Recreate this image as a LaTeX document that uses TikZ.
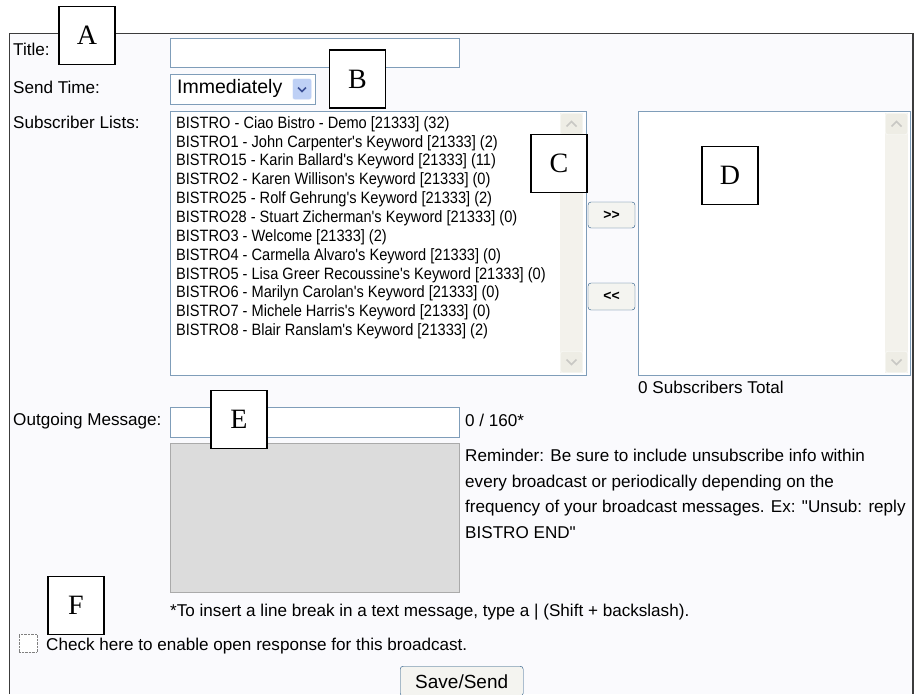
\documentclass[tikz,border=0pt]{standalone}
\usepackage{fontspec}
\setmainfont{Liberation Sans}[Ligatures=TeXOff]
\newfontfamily\listfont{Liberation Sans}[Ligatures=TeXOff, FakeStretch=0.89]
\newfontfamily\tagfont{Liberation Serif}
\usetikzlibrary{positioning,shapes}
\definecolor{panelbg}{RGB}{250,250,253}
\definecolor{fieldline}{RGB}{127,157,185}
\definecolor{scrollbg}{RGB}{243,242,236}
\definecolor{scrollbtn}{RGB}{238,237,229}
\definecolor{chevgray}{RGB}{200,200,196}
\definecolor{dropbtn}{RGB}{190,208,245}
\definecolor{dropchev}{RGB}{60,80,150}
\definecolor{btnline}{RGB}{28,81,128}
\definecolor{btnfill}{RGB}{244,244,240}
\definecolor{msgfill}{RGB}{220,220,220}
\definecolor{msgline}{RGB}{170,170,170}
\definecolor{frameline}{RGB}{60,60,60}

\begin{document}
\begin{tikzpicture}[x=1pt,y=-1pt]
	\tikzstyle{tag}
	  =[draw, line width=1.4pt, fill=white, rectangle, minimum width=56pt,
	  minimum height=58pt, inner sep=0pt, font=\tagfont\fontsize{28}{28}\selectfont]
	\tikzstyle{ui}
	  =[anchor=west, inner sep=0pt, text height=12.5pt, text depth=3.5pt,
	  font=\fontsize{17.1}{17.1}\selectfont]
	\tikzstyle{entry}
	  =[anchor=west, inner sep=0pt, text height=12pt, text depth=3.5pt,
	  font=\listfont\fontsize{16.4}{16.4}\selectfont]
	\tikzstyle{field}
	  =[draw=fieldline, fill=white, rectangle, anchor=north west, inner sep=0pt]
	\tikzstyle{scroll}
	  =[fill=scrollbg, rectangle, anchor=north west, inner sep=0pt]
	\tikzstyle{scrollkey}
	  =[draw=white, fill=scrollbtn, rounded corners=2pt, rectangle,
	  minimum width=22pt, minimum height=21pt, inner sep=0pt]
	\tikzstyle{pushbtn}
	  =[draw=btnline, fill=btnfill, rounded corners=3pt, rectangle,
	  inner sep=0pt, font=\fontsize{19}{19}\selectfont]

	\useasboundingbox (0,0) rectangle (918,694);

	% panel
	\fill[panelbg] (9,33) rectangle (913,694);
	\draw[frameline, line width=0.8pt] (9,694) -- (9,33) -- (913,33);
	\draw[frameline, line width=2pt] (913,33) -- (913,694);

	% labels on the left
	\node[ui] (ltitle) at (13,51) {Title:};
	\node[ui] (lsend) at (13,89) {Send Time:};
	\node[ui] (llists) at (13,124) {Subscriber Lists:};
	\node[ui] (lmsg) at (13,421) {Outgoing Message:};

	% title and send time
	\node[field, minimum width=289pt, minimum height=29pt] (title) at (170,38) {};
	\node[field, minimum width=145pt, minimum height=30pt] (send) at (170,74) {};
	\node[ui, font=\fontsize{19.5}{19.5}\selectfont] (sendval) at (177,89) {Immediately};
	\node[draw=white, fill=dropbtn, rounded corners=2pt, minimum width=19pt,
	  minimum height=21pt, inner sep=0pt] (drop) at (302,89) {};
	\draw[dropchev, line width=1.6pt] ([shift={(-4,-1.5)}]drop.center)
	  -- ([shift={(0,2.5)}]drop.center) -- ([shift={(4,-1.5)}]drop.center);

	% subscriber lists
	\node[field, minimum width=416pt, minimum height=264pt] (avail) at (170,111) {};
	\node[scroll, minimum width=23pt, minimum height=260pt] (availbar) at (560,113) {};
	\node[scrollkey] (availup) at (571.5,124) {};
	\node[scrollkey] (availdown) at (571.5,362) {};
	\node[field, minimum width=272pt, minimum height=264pt] (chosen) at (638,111) {};
	\node[scroll, minimum width=23pt, minimum height=260pt] (chosenbar) at (885,113) {};
	\node[scrollkey] (chosenup) at (896.5,124) {};
	\node[scrollkey] (chosendown) at (896.5,362) {};
	\foreach \k in {availup,chosenup}
	  \draw[chevgray, line width=1.6pt] ([shift={(-5,2.5)}]\k.center)
	    -- ([shift={(0,-2.5)}]\k.center) -- ([shift={(5,2.5)}]\k.center);
	\foreach \k in {availdown,chosendown}
	  \draw[chevgray, line width=1.6pt] ([shift={(-5,-2.5)}]\k.center)
	    -- ([shift={(0,2.5)}]\k.center) -- ([shift={(5,-2.5)}]\k.center);

	\node[entry] (L0) at (176,124) {BISTRO - Ciao Bistro - Demo [21333] (32)};
	\node[entry] (L1)
	  [below=2.95pt of L0.south west, anchor=north west] {BISTRO1 - John Carpenter's Keyword [21333] (2)};
	\node[entry] (L2)
	  [below=2.95pt of L1.south west, anchor=north west] {BISTRO15 - Karin Ballard's Keyword [21333] (11)};
	\node[entry] (L3)
	  [below=2.95pt of L2.south west, anchor=north west] {BISTRO2 - Karen Willison's Keyword [21333] (0)};
	\node[entry] (L4)
	  [below=2.95pt of L3.south west, anchor=north west] {BISTRO25 - Rolf Gehrung's Keyword [21333] (2)};
	\node[entry] (L5)
	  [below=2.95pt of L4.south west, anchor=north west] {BISTRO28 - Stuart Zicherman's Keyword [21333] (0)};
	\node[entry] (L6)
	  [below=2.95pt of L5.south west, anchor=north west] {BISTRO3 - Welcome [21333] (2)};
	\node[entry] (L7)
	  [below=2.95pt of L6.south west, anchor=north west] {BISTRO4 - Carmella Alvaro's Keyword [21333] (0)};
	\node[entry] (L8)
	  [below=2.95pt of L7.south west, anchor=north west] {BISTRO5 - Lisa Greer Recoussine's Keyword [21333] (0)};
	\node[entry] (L9)
	  [below=2.95pt of L8.south west, anchor=north west] {BISTRO6 - Marilyn Carolan's Keyword [21333] (0)};
	\node[entry] (L10)
	  [below=2.95pt of L9.south west, anchor=north west] {BISTRO7 - Michele Harris's Keyword [21333] (0)};
	\node[entry] (L11)
	  [below=2.95pt of L10.south west, anchor=north west] {BISTRO8 - Blair Ranslam's Keyword [21333] (2)};

	\node[pushbtn, minimum width=47pt, minimum height=26pt, font=\bfseries\fontsize{14}{14}\selectfont]
	  (add) at (611.5,215) {>{}>};
	\node[pushbtn, minimum width=47pt, minimum height=27pt, font=\bfseries\fontsize{14}{14}\selectfont]
	  (remove) at (611.5,296.5) {<{}<};
	\node[ui] (total) at (638,389) {0 Subscribers Total};

	% outgoing message
	\node[field, minimum width=289pt, minimum height=30pt] (msg) at (170,407) {};
	\node[ui] (count) at (465,422) {0 / 160*};
	\node[draw=msgline, line width=1pt, fill=msgfill, rectangle, anchor=north west,
	  minimum width=289pt, minimum height=149pt, inner sep=0pt] (preview) at (170,443) {};
	\node[ui] (rem1) at (465,457) {Reminder: Be sure to include unsubscribe info within};
	\node[ui] (rem2)
	  [below=9.3pt of rem1.south west, anchor=north west] {every broadcast or periodically depending on the};
	\node[ui] (rem3)
	  [below=9.3pt of rem2.south west, anchor=north west] {frequency of your broadcast messages. Ex: "Unsub: reply};
	\node[ui] (rem4)
	  [below=9.3pt of rem3.south west, anchor=north west] {BISTRO END"};
	\node[ui] (hint) at (170,612) {*To insert a line break in a text message, type a | (Shift + backslash).};

	% open response
	\node[draw=gray, densely dotted, fill=white, rectangle, minimum size=18pt,
	  inner sep=0pt] (check) at (28,643) {};
	\node[ui] (checktext) at (46,646) {Check here to enable open response for this broadcast.};
	\node[pushbtn, minimum width=123pt, minimum height=30pt, anchor=north west]
	  (save) at (400,666) {Save/Send};

	% callouts
	\node[tag] (A) at (87,35.5) {A};
	\node[tag] (B) at (357.5,79) {B};
	\node[tag] (C) at (559,163.5) {C};
	\node[tag] (D) at (730,175.5) {D};
	\node[tag] (E) at (239,419.5) {E};
	\node[tag] (F) at (76,605.5) {F};
\end{tikzpicture}
\end{document}
